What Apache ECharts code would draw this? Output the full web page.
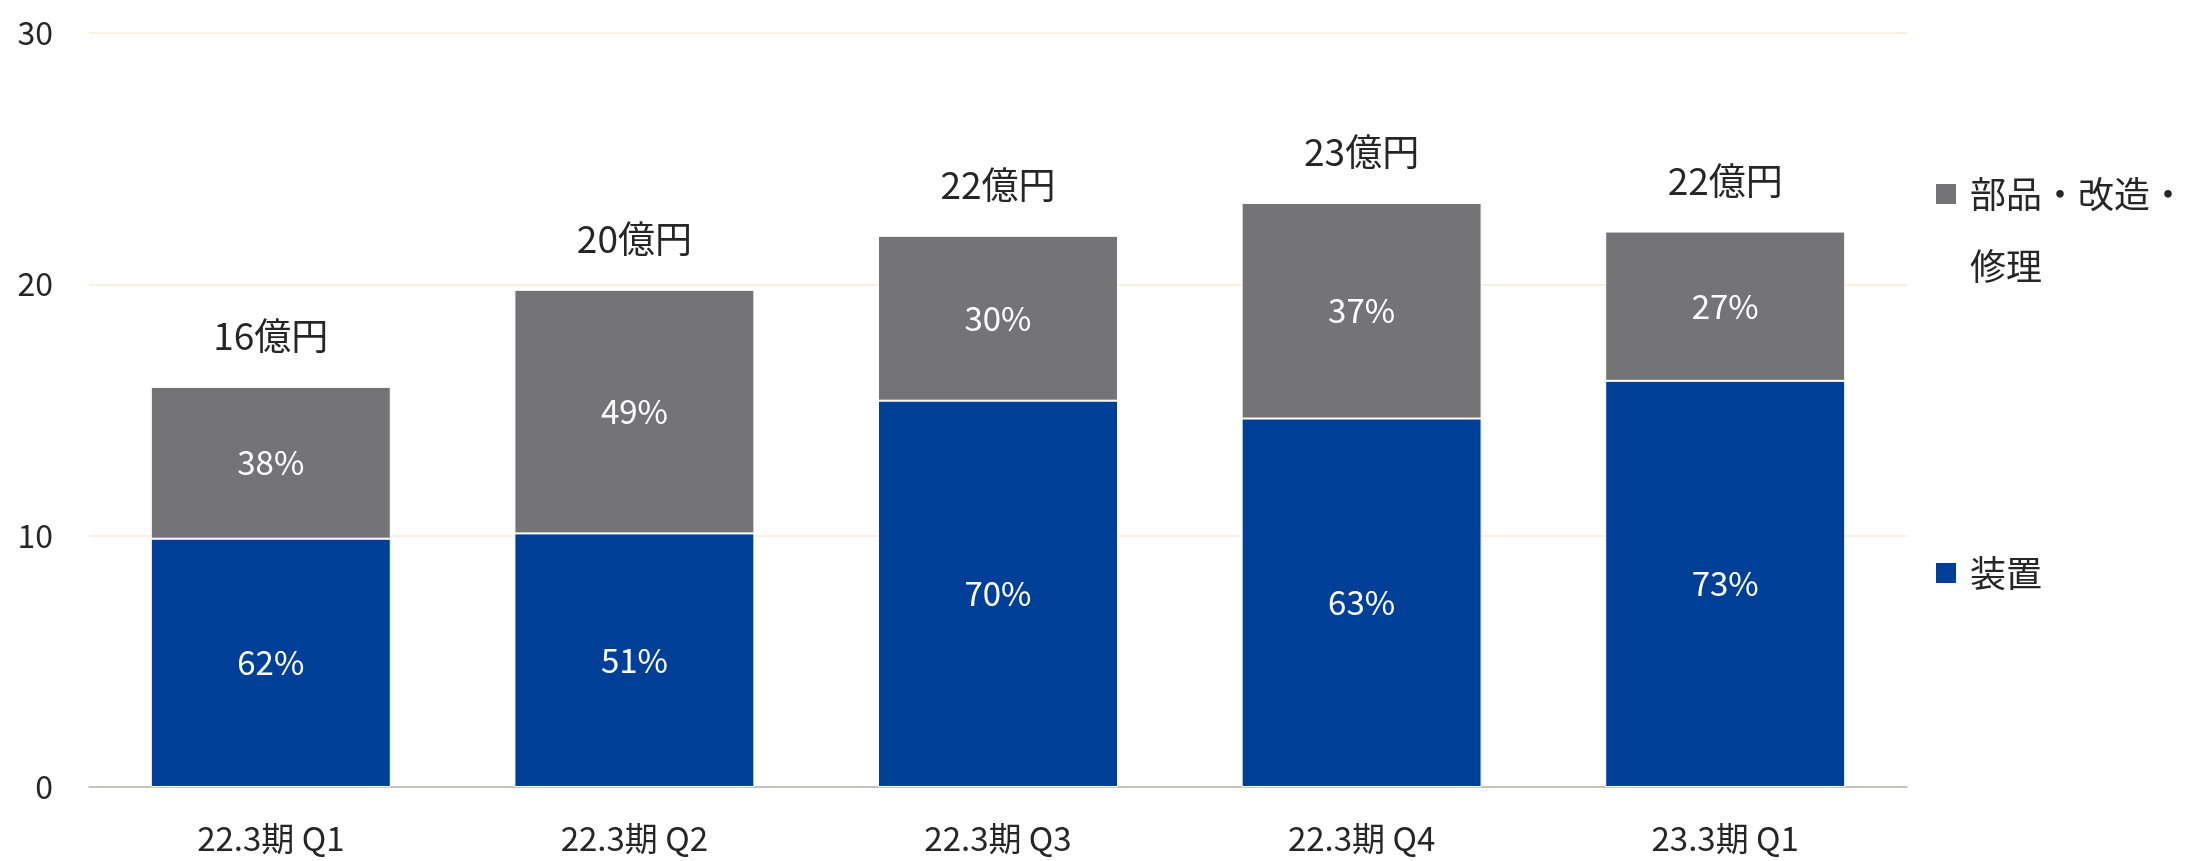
<!DOCTYPE html>
<html>
<head>
<meta charset="utf-8">
<script src="https://cdn.jsdelivr.net/npm/echarts@6/dist/echarts.min.js"></script>
<style>
html,body{margin:0;padding:0;background:#fff;}
#chart{width:2189px;height:861px;}
</style>
</head>
<body>
<div id="chart"></div>
<script>
var categories = ['22.3期 Q1', '22.3期 Q2', '22.3期 Q3', '22.3期 Q4', '23.3期 Q1'];
var equipment = [9.88, 10.09, 15.37, 14.66, 16.16];
var partsService = [6.04, 9.69, 6.56, 8.58, 5.94];
var equipmentPct = ['62%', '51%', '70%', '63%', '73%'];
var partsPct = ['38%', '49%', '30%', '37%', '27%'];
var totalLabels = ['16億円', '20億円', '22億円', '23億円', '22億円'];
var totalBase = [0, 0, 0, 0, 0];
var yTicks = [0, 10, 20, 30];

var FONT = '"Noto Sans CJK JP", "Noto Sans", sans-serif';
var chart = echarts.init(document.getElementById('chart'));
chart.setOption({
  backgroundColor: '#ffffff',
  animation: false,
  textStyle: { fontFamily: FONT },
  grid: { left: 89, right: 282, top: 33, bottom: 74, containLabel: false },
  legend: [
    {
      data: ['部品・改造・修理'],
      left: 1934,
      top: 104,
      padding: 0,
      itemWidth: 22,
      itemHeight: 22,
      icon: 'rect',
      formatter: function () { return '{c| }\n{a|部品・改造・}\n{a|修理}'; },
      textStyle: {
        fontFamily: FONT, color: '#262626', fontSize: 36,
        padding: [0, 0, 0, 8],
        rich: {
          a: { fontSize: 36, lineHeight: 72, color: '#262626', fontFamily: FONT },
          c: { fontSize: 36, lineHeight: 72 }
        }
      }
    },
    {
      data: ['装置'],
      left: 1934,
      top: 537,
      padding: 0,
      itemWidth: 22,
      itemHeight: 22,
      icon: 'rect',
      textStyle: { fontSize: 36, color: '#262626', fontFamily: FONT, lineHeight: 72, padding: [0, 0, 0, 8] }
    }
  ],
  xAxis: {
    type: 'category',
    data: categories,
    axisTick: { show: false },
    axisLine: { lineStyle: { color: '#b4b4b4', width: 1.5 } },
    axisLabel: { fontSize: 33, color: '#262626', margin: 35, fontFamily: FONT }
  },
  yAxis: {
    type: 'value',
    min: yTicks[0],
    max: yTicks[yTicks.length - 1],
    interval: 10,
    axisLine: { show: false },
    axisTick: { show: false },
    axisLabel: { fontSize: 32, color: '#262626', margin: 36, fontFamily: FONT },
    splitLine: { lineStyle: { color: '#fde9d9', width: 1.5 } }
  },
  series: [
    {
      name: '装置',
      type: 'bar',
      stack: 'total',
      barWidth: '66%',
      data: equipment,
      itemStyle: { color: '#003f98', borderColor: '#ffffff', borderWidth: 1 },
      label: {
        show: true, position: 'inside', fontSize: 33, color: '#ffffff', fontFamily: FONT,
        formatter: function (p) { return equipmentPct[p.dataIndex]; }
      }
    },
    {
      name: '部品・改造・修理',
      type: 'bar',
      stack: 'total',
      data: partsService,
      itemStyle: { color: '#747476', borderColor: '#ffffff', borderWidth: 1 },
      label: {
        show: true, position: 'inside', fontSize: 33, color: '#ffffff', fontFamily: FONT,
        formatter: function (p) { return partsPct[p.dataIndex]; }
      }
    },
    {
      name: '合計',
      type: 'bar',
      stack: 'total',
      data: totalBase,
      itemStyle: { color: 'transparent' },
      label: {
        show: true, position: 'top', distance: 32, fontSize: 37, color: '#262626', fontFamily: FONT,
        formatter: function (p) { return totalLabels[p.dataIndex]; }
      }
    }
  ]
});
</script>
</body>
</html>
